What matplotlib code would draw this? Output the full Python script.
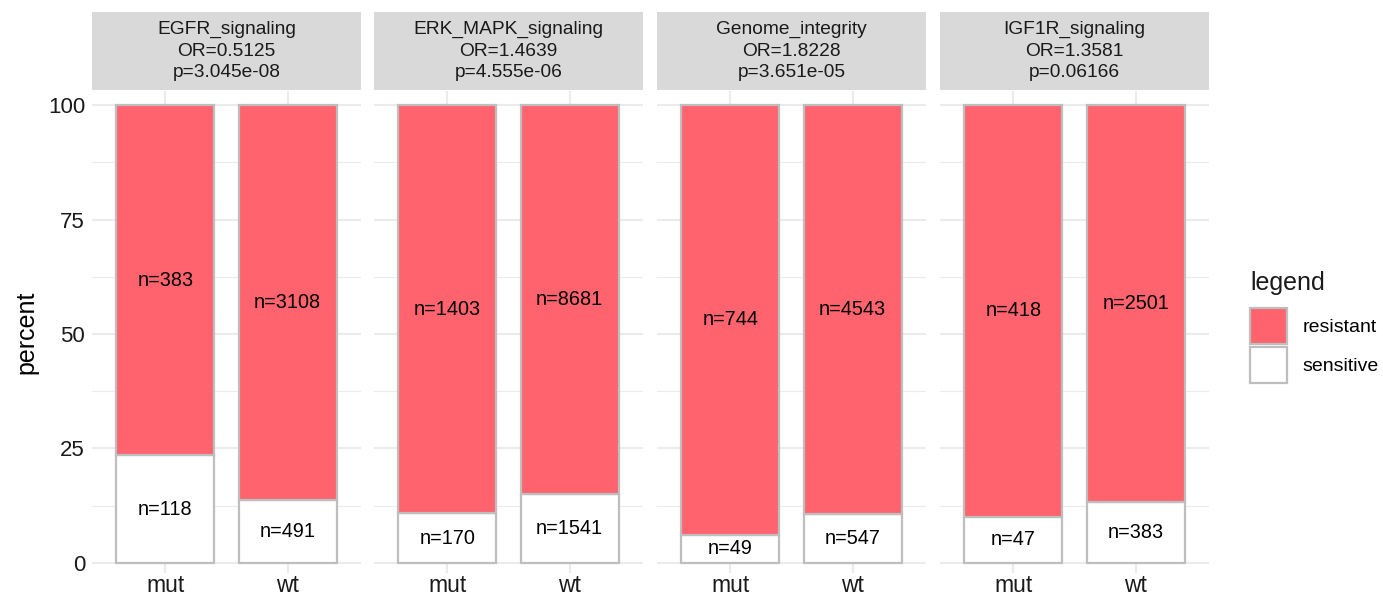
import numpy as np
import matplotlib
matplotlib.use('Agg')
import matplotlib.pyplot as plt
from matplotlib.patches import Patch

plt.rcParams['font.family'] = ['Liberation Sans', 'DejaVu Sans']

# data
pathways = ["EGFR_signaling", "ERK_MAPK_signaling", "Genome_integrity", "IGF1R_signaling"]
odds_ratios = ["0.5125", "1.4639", "1.8228", "1.3581"]
p_values = ["3.045e-08", "4.555e-06", "3.651e-05", "0.06166"]
groups = ["mut", "wt"]
n_sensitive = [[118, 491], [170, 1541], [49, 547], [47, 383]]
n_resistant = [[383, 3108], [1403, 8681], [744, 4543], [418, 2501]]

RED = "#FF646E"
EDGE = "#BEBEBE"
GRID = "#EBEBEB"
STRIP = "#D9D9D9"

W, H = 1383, 598
fig = plt.figure(figsize=(W/100, H/100), dpi=100)

lefts = [92, 374, 657, 940]
pw = 269
ptop, pbot = 91, 573
strip_top = 12

for i, name in enumerate(pathways):
    L = lefts[i]
    ax = fig.add_axes([L/W, 1 - pbot/H, pw/W, (pbot - ptop)/H])
    sens = np.array(n_sensitive[i], dtype=float)
    res = np.array(n_resistant[i], dtype=float)
    tot = sens + res
    ps = 100 * sens / tot
    pr = 100 * res / tot
    x = np.arange(1, len(groups) + 1)
    ax.bar(x, ps, width=0.8, color="white", edgecolor=EDGE, linewidth=1.6, zorder=3)
    ax.bar(x, pr, bottom=ps, width=0.8, color=RED, edgecolor=EDGE, linewidth=1.6, zorder=3)
    for xi, a, b, s, r in zip(x, ps, pr, sens, res):
        ax.text(xi, a/2, f"n={int(s)}", ha="center", va="center", fontsize=14.3, color="black", zorder=4)
        ax.text(xi, a + b/2, f"n={int(r)}", ha="center", va="center", fontsize=14.3, color="black", zorder=4)
    ax.set_xlim(0.4, 2.6)
    ax.set_ylim(-2.2, 103.1)
    ax.set_xticks(x)
    ax.set_xticklabels(groups, fontsize=16.5, color="#1A1A1A")
    ax.set_yticks([0, 25, 50, 75, 100])
    ax.set_yticks([12.5, 37.5, 62.5, 87.5], minor=True)
    ax.grid(True, which="major", color=GRID, linewidth=1.5, zorder=0)
    ax.grid(True, which="minor", axis="y", color=GRID, linewidth=0.8, zorder=0)
    ax.tick_params(which="both", length=0)
    ax.tick_params(axis="x", pad=1)
    ax.tick_params(axis="y", pad=5, labelsize=16, labelcolor="#1A1A1A")
    for s in ax.spines.values():
        s.set_visible(False)
    if i == 0:
        ax.set_ylabel("percent", fontsize=18, labelpad=7)
    else:
        ax.set_yticklabels([])

    # facet strip
    sax = fig.add_axes([L/W, 1 - 90/H, pw/W, (90 - strip_top)/H])
    sax.set_facecolor(STRIP)
    sax.set_xticks([])
    sax.set_yticks([])
    for s in sax.spines.values():
        s.set_visible(False)
    sax.text(0.5, 0.5, f"{name}\nOR={odds_ratios[i]}\np={p_values[i]}",
             ha="center", va="center", fontsize=13.8, color="#1A1A1A",
             linespacing=1.32, transform=sax.transAxes)

# legend (title placed separately to get the gap right)
fig.text(1250/W, 1 - 283/H, "legend", ha="left", va="center", fontsize=18, color="#1A1A1A")
handles = [Patch(facecolor=RED, edgecolor=EDGE, linewidth=1.6, label="resistant"),
           Patch(facecolor="white", edgecolor=EDGE, linewidth=1.6, label="sensitive")]
leg = fig.legend(handles=handles, loc="upper left",
                 bbox_to_anchor=(1250/W, 1 - 308/H), frameon=False,
                 fontsize=14, handlelength=1.9, handleheight=2.5,
                 labelspacing=0.12, handletextpad=0.8, borderpad=0.0, borderaxespad=0)

fig.savefig("out.png", dpi=100, facecolor="white")
